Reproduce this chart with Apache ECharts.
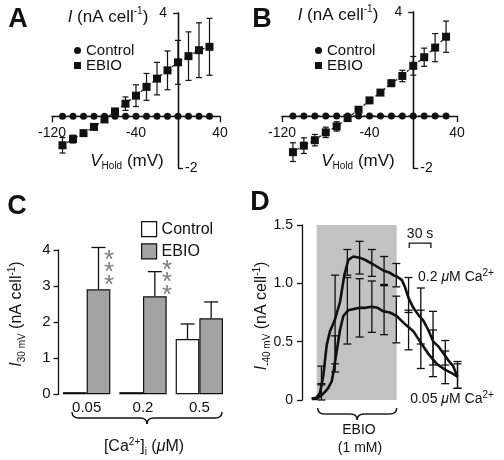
<!DOCTYPE html>
<html><head><meta charset="utf-8">
<script src="https://cdn.jsdelivr.net/npm/echarts@6/dist/echarts.min.js"></script>
<style>html,body{margin:0;padding:0;background:#fff}#c{width:504px;height:460px}</style>
</head><body><div id="c"></div>
<script>
const FF = '"Liberation Sans", Arial, Helvetica, sans-serif';
const INK = '#111';

// ---------- Panel A & B : holding voltage (mV) ----------
const voltages = [-110,-100,-90,-80,-70,-60,-50,-40,-30,-20,-10,0,10,20,30];
const ctrlA   = [0.0,0.0,0.0,0.0,0.0,0.0,0.0,0.0,0.0,0.0,0.0,0.0,0.0,0.0,0.0];
const ebioA   = [-1.12,-0.88,-0.65,-0.41,-0.12,0.19,0.49,0.80,1.14,1.46,1.78,2.09,2.33,2.56,2.69];
const ebioAErr= [0.30,0.15,0.08,0.05,0.05,0.08,0.26,0.42,0.52,0.63,0.75,0.85,0.94,1.06,1.10];
const ctrlB   = [0.0,0.0,0.0,0.0,0.0,0.0,0.0,0.0,0.0,0.0,0.0,0.0,0.0,0.0,0.0];
const ebioB   = [-1.39,-1.14,-0.93,-0.63,-0.40,-0.08,0.24,0.60,0.90,1.26,1.54,1.93,2.26,2.63,3.05];
const ebioBErr= [0.36,0.30,0.22,0.20,0.18,0.05,0.03,0.03,0.05,0.12,0.22,0.36,0.35,0.54,0.60];
const ivXLabels = [-120,-40,40];
const ivXTicks = [-120,40];
const ivXMin = -120, ivXMax = 40, ivYMin = -2, ivYMax = 4;

// ---------- Panel C : I at 30 mV vs [Ca2+]i ----------
const caLevels = ['0.05','0.2','0.5'];
const ctrlC    = [0.06,0.06,1.53];
const ctrlCTop = [null,null,1.95];
const ebioC    = [2.91,2.72,2.11];
const ebioCTop = [4.07,3.40,2.56];

// ---------- Panel D : time course at -40 mV ----------
const tHigh = [13.5,20,25,29.6,34.3,38.9,45.8,52.8,58.8,64.3,71.3,80,88,96.8,105,113,122,127,131.5,138.5,143,147.6,154.6,161.5,168.5,175.4,182.4,189.3,196.3,203.2,210,216];
const vHigh = [0.01,0.02,0.06,0.21,0.47,0.59,0.69,0.84,1.07,1.20,1.23,1.22,1.20,1.17,1.14,1.11,1.09,1.07,1.06,1.03,0.97,0.88,0.79,0.73,0.68,0.60,0.50,0.46,0.40,0.34,0.29,0.20];
const tLow  = [13.5,20,27,31.9,36,41.3,44,48.2,52.8,57.4,64.3,72,80,88,96.8,105,113,122,131.5,138,145,154.6,164,175,187,198.6,208,216];
const vLow  = [0.01,0.01,0.04,0.07,0.10,0.16,0.25,0.42,0.60,0.72,0.77,0.78,0.79,0.79,0.80,0.79,0.76,0.75,0.72,0.68,0.64,0.59,0.50,0.40,0.31,0.26,0.23,0.20];
const errT      = [27,46,63,80,97,114,131,148,165,182,199,216];
const errHighLo = [0.14,0.31,1.07,1.08,1.06,0.99,0.97,0.75,0.48,0.30,0.30,0.10];
const errHighHi = [0.29,1.07,1.29,1.36,1.29,1.23,1.17,1.05,0.96,0.76,0.51,0.33];
const errLowLo  = [0.00,0.24,0.48,0.54,0.58,0.56,0.49,0.43,0.27,0.20,0.14,0.10];
const errLowHi  = [0.13,0.55,1.05,1.04,1.02,0.98,0.89,0.77,0.77,0.60,0.42,0.31];
const ebioStart = 20.4, ebioEnd = 131.5;

// ---------- helpers ----------
const zip = (a,b) => a.map((v,i)=>[v,b[i]]);
function errRender(capW, lw){
  return function(params, api){
    const x = api.value(0), lo = api.value(1), hi = api.value(2);
    const p1 = api.coord([x,lo]), p2 = api.coord([x,hi]);
    const st = {stroke:INK, lineWidth:lw};
    return {type:'group', children:[
      {type:'line', shape:{x1:p1[0],y1:p1[1],x2:p2[0],y2:p2[1]}, style:st},
      {type:'line', shape:{x1:p1[0]-capW,y1:p1[1],x2:p1[0]+capW,y2:p1[1]}, style:st},
      {type:'line', shape:{x1:p2[0]-capW,y1:p2[1],x2:p2[0]+capW,y2:p2[1]}, style:st}
    ]};
  };
}
function barErrRender(params, api){
  const ci = api.value(0), top = api.value(1), hi = api.value(2), side = api.value(3);
  const band = api.size([1,0])[0];
  const bw = band*(1-0.16)/2;
  const cx = api.coord([ci,0])[0] + side*bw/2;
  const p1 = api.coord([ci,top]), p2 = api.coord([ci,hi]);
  const st = {stroke:INK, lineWidth:1.3};
  return {type:'group', children:[
    {type:'line', shape:{x1:cx,y1:p1[1],x2:cx,y2:p2[1]}, style:st},
    {type:'line', shape:{x1:cx-7,y1:p2[1],x2:cx+7,y2:p2[1]}, style:st}
  ]};
}
const axLine = {lineStyle:{color:INK, width:1.3}};
const lab = (extra) => Object.assign({color:INK, fontFamily:FF, fontSize:14}, extra);

// I-V axes cross at (0,0): offsets derived from the grid box and the axis ranges
function ivAxes(gi, grid){
  const zx = grid.width * (0 - ivXMin) / (ivXMax - ivXMin);
  const zy = grid.height * (ivYMax - 0) / (ivYMax - ivYMin);
  return {
    x: {gridIndex:gi, type:'value', min:ivXMin, max:ivXMax, position:'bottom', offset:-(grid.height - zy),
        axisLine:Object.assign({onZero:false}, axLine),
        axisTick:{customValues:ivXTicks, length:6, lineStyle:{color:INK,width:1.3}},
        axisLabel:lab({customValues:ivXLabels, margin:10}),
        splitLine:{show:false}},
    yl: {gridIndex:gi, type:'value', min:ivYMin, max:ivYMax, position:'left', offset:-zx,
        axisLine:Object.assign({onZero:false}, axLine),
        axisTick:{customValues:[ivYMax], length:5, lineStyle:{color:INK,width:1.3}},
        axisLabel:lab({customValues:[ivYMax], margin:11}),
        splitLine:{show:false}},
    yr: {gridIndex:gi, type:'value', min:ivYMin, max:ivYMax, position:'right', offset:-(grid.width - zx),
        axisLine:Object.assign({onZero:false}, axLine),
        axisTick:{customValues:[ivYMin], length:5, lineStyle:{color:INK,width:1.3}},
        axisLabel:lab({customValues:[ivYMin], margin:7}),
        splitLine:{show:false}}
  };
}
const grids = [
  {left:52, top:13, width:168, height:155, outerBoundsMode:'none'},
  {left:282, top:12, width:175, height:156, outerBoundsMode:'none'},
  {left:58.5, top:250, width:169, height:144.3, outerBoundsMode:'none'},
  {left:302, top:225, width:165.6, height:175, outerBoundsMode:'none'}
];
const axA = ivAxes(0, grids[0]), axB = ivAxes(1, grids[1]);

function ivSeries(xi, yi, ctrl, ebio, err){
  const ls = {color:INK, width:1.2, type:[2.5,2.5]};
  return [
    {type:'custom', xAxisIndex:xi, yAxisIndex:yi, z:1, silent:true,
     data: voltages.map((v,i)=>[v, ebio[i]-err[i], ebio[i]+err[i]]),
     renderItem: errRender(3, 1.2)},
    {type:'line', name:'Control', xAxisIndex:xi, yAxisIndex:yi, z:3, data:zip(voltages, ctrl),
     symbol:'circle', symbolSize:7, itemStyle:{color:INK}, lineStyle:ls},
    {type:'line', name:'EBIO', xAxisIndex:xi, yAxisIndex:yi, z:3, data:zip(voltages, ebio),
     symbol:'rect', symbolSize:8, itemStyle:{color:INK}, lineStyle:ls}
  ];
}

function rtext(x, y, text, size, extra){
  const lh = size + 4;
  const r = {
    i:{fontStyle:'italic', fontSize:size, fontFamily:FF, lineHeight:lh},
    sup:{fontSize:10, fontFamily:FF, verticalAlign:'top', lineHeight:lh},
    sub:{fontSize:10, fontFamily:FF, verticalAlign:'bottom', lineHeight:lh},
    mu:{fontStyle:'italic', fontSize:size, fontFamily:FF, lineHeight:lh}
  };
  return Object.assign({type:'text', x, y, silent:true, z:100,
    style:{text, rich:r, fontFamily:FF, fontSize:size, fill:INK, lineHeight:lh, align:'center', verticalAlign:'middle'}}, extra||{});
}
function ptext(x, y, text, size, extra, styleExtra){
  return Object.assign({type:'text', x, y, silent:true, z:100,
    style:Object.assign({text, fontFamily:FF, fontSize:size, fill:INK, align:'center', verticalAlign:'middle'}, styleExtra||{})}, extra||{});
}
function brace(x1, x2, y0, h){
  const ym = y0 + h/2, xm = (x1+x2)/2, y2 = y0 + h, r = 7;
  const st = {fill:null, stroke:INK, lineWidth:1.4};
  const q = (a,b,c,d,e,f)=>({type:'bezierCurve', shape:{x1:a,y1:b,cpx1:c,cpy1:d,x2:e,y2:f}, style:st});
  const l = (a,b,c,d)=>({type:'line', shape:{x1:a,y1:b,x2:c,y2:d}, style:st});
  return {type:'group', silent:true, z:100, children:[
    q(x1,y0, x1,ym, x1+r,ym), l(x1+r,ym, xm-r,ym), q(xm-r,ym, xm,ym, xm,y2),
    q(xm,y2, xm,ym, xm+r,ym), l(xm+r,ym, x2-r,ym), q(x2-r,ym, x2,ym, x2,y0)
  ]};
}

const option = {
  animation:false,
  backgroundColor:'#fff',
  textStyle:{fontFamily:FF},
  grid:grids,
  xAxis:[
    axA.x, axB.x,
    {gridIndex:2, type:'category', data:caLevels, axisLine:{show:false}, axisTick:{show:false},
     axisLabel:lab({fontSize:15, margin:6}), splitLine:{show:false}},
    {gridIndex:3, type:'value', min:0, max:230, show:false, splitLine:{show:false}}
  ],
  yAxis:[
    axA.yl, axA.yr, axB.yl, axB.yr,
    {gridIndex:2, type:'value', min:0, max:4, interval:1,
     axisLine:Object.assign({show:true}, axLine),
     axisTick:{show:true, length:5, lineStyle:{color:INK,width:1.3}},
     axisLabel:lab({fontSize:15, margin:8}), splitLine:{show:false}},
    {gridIndex:3, type:'value', min:0, max:1.5, interval:0.5,
     axisLine:Object.assign({show:true}, axLine),
     axisTick:{show:true, length:5, lineStyle:{color:INK,width:1.3}},
     axisLabel:lab({fontSize:14, margin:9, formatter:v=> v===0 ? '0' : v.toFixed(1)}), splitLine:{show:false}}
  ],
  legend:[
    {left:69, top:38, orient:'vertical', itemWidth:7, itemHeight:7, itemGap:0, textStyle:{fontSize:15, color:INK, fontFamily:FF},
     data:[{name:'Control', icon:'circle'},{name:'EBIO', icon:'rect'}], selectedMode:false},
    {left:310, top:38, orient:'vertical', itemWidth:7, itemHeight:7, itemGap:0, textStyle:{fontSize:15, color:INK, fontFamily:FF},
     data:[{name:'Control', icon:'circle'},{name:'EBIO', icon:'rect'}], selectedMode:false},
    {left:136, top:216, orient:'vertical', itemWidth:15, itemHeight:15, itemGap:6, textStyle:{fontSize:16, color:INK, fontFamily:FF},
     formatter: n => n.replace('C-',''), selectedMode:false,
     data:[{name:'C-Control', icon:'rect', itemStyle:{color:'#fff', borderColor:INK, borderWidth:1.2}},
           {name:'C-EBIO', icon:'rect', itemStyle:{color:'#a3a3a3', borderColor:INK, borderWidth:1.2}}]}
  ],
  series:[
    ...ivSeries(0,0,ctrlA,ebioA,ebioAErr),
    ...ivSeries(1,2,ctrlB,ebioB,ebioBErr),
    {type:'bar', name:'C-Control', xAxisIndex:2, yAxisIndex:4, data:ctrlC, barGap:'0%', barCategoryGap:'16%',
     itemStyle:{color:'#fff', borderColor:INK, borderWidth:1.2}, z:2},
    {type:'bar', name:'C-EBIO', xAxisIndex:2, yAxisIndex:4, data:ebioC, barGap:'0%', barCategoryGap:'16%',
     itemStyle:{color:'#a3a3a3', borderColor:INK, borderWidth:1.2}, z:2},
    {type:'custom', xAxisIndex:2, yAxisIndex:4, z:1, silent:true, renderItem:barErrRender,
     data: [].concat(
       ctrlC.map((v,i)=> ctrlCTop[i]==null ? null : [i, v, ctrlCTop[i], -1]).filter(Boolean),
       ebioC.map((v,i)=> [i, v, ebioCTop[i], 1]))},
    {type:'line', xAxisIndex:3, yAxisIndex:5, data:[], z:0, silent:true,
     markArea:{silent:true, itemStyle:{color:'#c2c2c2'}, data:[[{xAxis:ebioStart, yAxis:0},{xAxis:ebioEnd, yAxis:1.5}]]}},
    {type:'custom', xAxisIndex:3, yAxisIndex:5, z:4, silent:true, renderItem:errRender(4, 1.3),
     data: errT.map((t,i)=>[t, errHighLo[i], errHighHi[i]])},
    {type:'custom', xAxisIndex:3, yAxisIndex:5, z:4, silent:true, renderItem:errRender(4, 1.3),
     data: errT.map((t,i)=>[t, errLowLo[i], errLowHi[i]])},
    {type:'line', name:'0.2', xAxisIndex:3, yAxisIndex:5, z:5, data:zip(tHigh, vHigh), symbol:'none',
     lineStyle:{color:INK, width:2.6}},
    {type:'line', name:'0.05', xAxisIndex:3, yAxisIndex:5, z:5, data:zip(tLow, vLow), symbol:'none',
     lineStyle:{color:INK, width:2.6}}
  ],
  graphic:[]
};

const chart = echarts.init(document.getElementById('c'));
chart.setOption(option);

// annotations
const g = [];
const bold = {fontWeight:'bold'};
g.push(ptext(18, 20, 'A', 27, {}, bold));
g.push(ptext(262, 20, 'B', 27, {}, bold));
g.push(ptext(17, 207, 'C', 27, {}, bold));
g.push(ptext(260, 203, 'D', 27, {}, bold));
// A/B axis titles
g.push(rtext(108, 17, '{i|I} (nA cell{sup|-1})', 17));
g.push(rtext(338, 15, '{i|I} (nA cell{sup|-1})', 17));
g.push(rtext(127, 161, '{i|V}{sub|Hold} (mV)', 17));
g.push(rtext(358, 161, '{i|V}{sub|Hold} (mV)', 17));
// C titles
g.push(rtext(17, 314, '{i|I}{sub|30 mV} (nA cell{sup|-1})', 16, {rotation:Math.PI/2}));
g.push(rtext(144, 447, '[Ca{sup|2+}]{sub|i} ({mu|μ}M)', 16));
g.push(brace(72, 222, 412, 12));
// asterisks
[[109,[255,267,280]],[167,[265,277,290]]].forEach(([x,ys])=>{
  ys.forEach(y=> g.push(ptext(x, y+6, '*', 26, {}, {fill:'#7d7d7d'})));
});
// D titles
g.push(rtext(262, 316, '{i|I}{sub|-40 mV} (nA cell{sup|-1})', 16, {rotation:Math.PI/2}));
g.push(rtext(456, 277, '0.2 {mu|μ}M Ca{sup|2+}', 14));
g.push(rtext(452, 399, '0.05 {mu|μ}M Ca{sup|2+}', 14));
g.push(ptext(359, 430, 'EBIO', 14));
g.push(ptext(360, 448, '(1 mM)', 14));
// EBIO brace, aligned to application window
const pa = chart.convertToPixel({gridIndex:3}, [ebioStart, 0]);
const pb = chart.convertToPixel({gridIndex:3}, [ebioEnd, 0]);
g.push(brace(pa[0]+1, pb[0], 408, 12));
// 30 s scale bar
const s1 = chart.convertToPixel({gridIndex:3}, [149, 1.345]);
const s2 = chart.convertToPixel({gridIndex:3}, [179, 1.345]);
g.push({type:'polyline', silent:true, z:100, shape:{points:[[s1[0], s1[1]+5],[s1[0], s1[1]],[s2[0], s2[1]],[s2[0], s2[1]+5]]},
  style:{fill:null, stroke:INK, lineWidth:1.3}});
g.push(ptext((s1[0]+s2[0])/2, s1[1]-9, '30 s', 14));
chart.setOption({graphic:g});
</script></body></html>
